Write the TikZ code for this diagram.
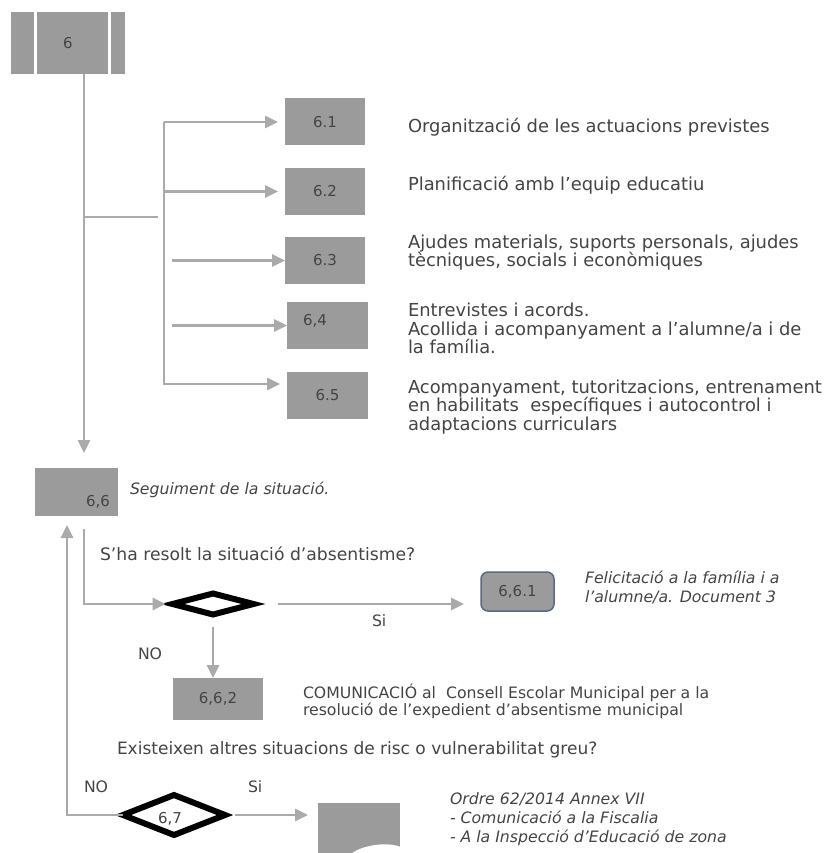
\documentclass[tikz,border=0pt]{standalone}
\usepackage{fontspec}
\setmainfont{DejaVu Sans}
\usepackage{xcolor}
\usetikzlibrary{positioning}
\usetikzlibrary{shapes.geometric,arrows.meta}
\definecolor{boxgray}{RGB}{155,155,155}
\definecolor{linegray}{RGB}{170,170,170}
\definecolor{txtgray}{RGB}{68,68,68}
\definecolor{edgeblue}{RGB}{90,105,130}

\begin{document}
\begin{tikzpicture}[x=1pt,y=-1pt,every node/.style={inner sep=0,outer sep=0,text=txtgray},
	box/.style={fill=boxgray,minimum width=80pt,minimum height=47pt,font=\fontsize{15}{17}\selectfont},
	txt/.style={anchor=west,align=left,font=\fontsize{17.9}{18.5}\selectfont},
	ask/.style={anchor=west,font=\fontsize{17.2}{18.5}\selectfont},
	note/.style={anchor=west,align=left,font=\fontsize{15.7}{19}\selectfont\itshape},
	small/.style={anchor=west,align=left,font=\fontsize{15.7}{17}\selectfont},
	line/.style={draw=linegray,line width=2.8pt},
	arr/.style={line,-{Triangle[length=13pt,width=12pt]}},
	test/.style={diamond,draw=black,line width=6pt,fill=white}]
	\useasboundingbox (0,0) rectangle (825,853);
	% step 6 and its actions
	\node (6) [box,minimum width=114pt,minimum height=62pt] at (68,43) {6};
	\draw[white,line width=3pt] ([xshift=24pt]6.north west) -- ([xshift=24pt]6.south west)
		([xshift=-16pt]6.north east) -- ([xshift=-16pt]6.south east);
	\node (61) [box] at (325,122) {6.1};
	\node (62) [box,below=22.5pt of 61] {6.2};
	\node (63) [box,below=22pt of 62] {6.3};
	\node (64) [box,below=18pt of 63,xshift=2.5pt,minimum width=81pt,
		label={[anchor=north west,xshift=16pt,yshift=-12pt,font=\fontsize{15}{17}\selectfont]north west:6,4}] {};
	\node (65) [box,below=23pt of 64,minimum width=81pt] {6.5};
	\node (t61) [txt] at (408,127) {Organització de les actuacions previstes};
	\node (t62) [txt] at (408,185) {Planificació amb l'equip educatiu};
	\node (t63) [txt] at (408,252.5) {Ajudes materials, suports personals, ajudes\\tècniques, socials i econòmiques};
	\node (t64) [txt] at (408,328.5) {Entrevistes i acords.\\Acollida i acompanyament a l'alumne/a i de\\la família.};
	\node (t65) [txt] at (408,407) {Acompanyament, tutoritzacions, entrenament\\en habilitats \ específiques i autocontrol i\\adaptacions curriculars};
	\coordinate (trunk) at (84,0);
	\coordinate (bus) at (164,0);
	\coordinate (fork) at (158,217);
	\draw[line] (fork -| trunk) -- (fork);
	\draw[arr,shorten >=7pt] (61.west -| bus) -- (61.west);
	\draw[arr,shorten >=7pt] (61.west -| bus) |- ([yshift=11.5pt]65.west);
	\draw[arr,shorten >=7pt] (62.west -| bus) -- (62.west);
	\draw[arr] ([xshift=8pt]63.west -| bus) -- (63.west);
	\draw[arr] ([xshift=8pt]64.west -| bus) -- (64.west);
	% follow-up
	\node (66) [box,minimum width=83pt,minimum height=48pt,
		label={[anchor=south east,xshift=-8pt,yshift=8pt,font=\fontsize{15}{17}\selectfont]south east:6,6}] at (76.5,492) {};
	\draw[arr,shorten >=15pt] (6.south -| trunk) -- (66.north -| trunk);
	\node (t66) [note] at (130,490) {Seguiment de la situació.};
	\node (q1) [ask] at (100,554) {S'ha resolt la situació d'absentisme?};
	\node (d1) [test,minimum width=81pt,minimum height=21pt] at (213,604) {};
	\draw[arr,shorten <=13pt,shorten >=7pt] (66.south -| trunk) |- (d1.west);
	\node (661) [box,draw=edgeblue,line width=1.5pt,rounded corners=7pt,minimum width=73pt,minimum height=39pt] at (517.5,591.5) {6,6.1};
	\draw[arr,shorten <=24pt,shorten >=17pt] (d1.east) -- (d1.east -| 661.west);
	\node (si1) [small] at (372,621) {Si};
	\node (t661) [note] at (585,587.5) {Felicitació a la família i a\\l'alumne/a. Document 3};
	\node (662) [box,minimum width=90pt,minimum height=42pt] at (218,699) {6,6,2};
	\draw[arr,shorten <=12pt] (d1.south) -- (d1.south |- 662.north);
	\node (no1) [small] at (138,654) {NO};
	\node (t662) [small] at (303,701.5) {COMUNICACIÓ al \ Consell Escolar Municipal per a la\\resolució de l'expedient d'absentisme municipal};
	% other risks
	\node (q2) [ask,font=\fontsize{17}{18.5}\selectfont] at (117,750) {Existeixen altres situacions de risc o vulnerabilitat greu?};
	\node (67) [test,minimum width=102pt,minimum height=40pt,
		label={[xshift=-4pt,yshift=-4pt,font=\fontsize{15}{17}\selectfont]center:6,7}] at (174,815) {};
	\coordinate (back) at (67,0);
	\draw[arr,shorten >=9pt] (67.west) -| (66.south -| back);
	\node (no2) [small] at (84,787) {NO};
	\node (si2) [small] at (248,787) {Si};
	\node (doc) [box,anchor=north west,minimum width=82pt,minimum height=50pt] at (318,803) {};
	\fill[white] (352,853) .. controls (362,846) and (385,841) .. (401,847) -- (401,853) -- cycle;
	\draw[arr,shorten <=9.5pt,shorten >=10pt] (67.east) -- (67.east -| doc.west);
	\node (tdoc) [note] at (450,819) {Ordre 62/2014 Annex VII\\- Comunicació a la Fiscalia\\- A la Inspecció d'Educació de zona};
\end{tikzpicture}
\end{document}
